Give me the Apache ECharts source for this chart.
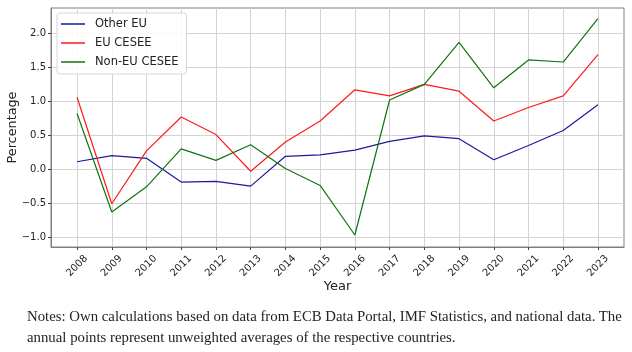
<!DOCTYPE html>
<html>
<head>
<meta charset="utf-8">
<script src="https://cdn.jsdelivr.net/npm/echarts@6/dist/echarts.min.js"></script>
<style>
html,body{margin:0;padding:0;background:#fff;}
#chart{position:absolute;left:0;top:0;width:632px;height:352px;}
#notes{position:absolute;left:27px;top:306px;width:605px;font-family:"Liberation Serif","DejaVu Serif",serif;font-size:14.8px;line-height:21px;color:#222;}
</style>
</head>
<body>
<div id="chart"></div>
<div id="notes">Notes: Own calculations based on data from ECB Data Portal, IMF Statistics, and national data. The annual points represent unweighted averages of the respective countries.</div>
<script>
const years = [2008,2009,2010,2011,2012,2013,2014,2015,2016,2017,2018,2019,2020,2021,2022,2023];
const otherEU = [0.11,0.20,0.16,-0.19,-0.18,-0.25,0.19,0.21,0.28,0.41,0.49,0.45,0.14,0.35,0.57,0.95];
const euCESEE = [1.06,-0.51,0.27,0.77,0.51,-0.03,0.40,0.71,1.17,1.08,1.25,1.15,0.71,0.91,1.08,1.69];
const nonEuCESEE = [0.82,-0.63,-0.26,0.30,0.13,0.36,0.01,-0.24,-0.97,1.02,1.25,1.87,1.20,1.61,1.58,2.22];
const yTicks = [-1.0,-0.5,0.0,0.5,1.0,1.5,2.0];
const seriesNames = ['Other EU','EU CESEE','Non-EU CESEE'];

const pair = arr => years.map((y,i)=>[y,arr[i]]);
const fmtY = v => v.toFixed(1).replace('-', '\u2212');
const font = '"DejaVu Sans", sans-serif';
const chart = echarts.init(document.getElementById('chart'), null, {renderer:'canvas'});
const mk = (name, data, color) => ({
  name, type:'line', data: pair(data), symbol:'none', showSymbol:false,
  lineStyle:{color, width:1.2}, itemStyle:{color}, emphasis:{disabled:true}, animation:false
});
chart.setOption({
  animation:false,
  grid:{left:51, right:8, top:8, bottom:105, show:true, borderColor:'#7f7f7f', borderWidth:1, backgroundColor:'#fff', outerBoundsMode:'none', containLabel:false},
  legend:{
    orient:'vertical', left:57, top:13, icon:'rect', itemWidth:24, itemHeight:1.5, itemGap:5,
    padding:[4,8,5,4], backgroundColor:'rgba(255,255,255,0.85)', borderColor:'#d6d6d6', borderWidth:1, borderRadius:3,
    textStyle:{fontFamily:font, fontSize:11.5, color:'#222', padding:[0,0,0,5], lineHeight:14},
    data: seriesNames
  },
  xAxis:{
    type:'value', min:2007.25, max:2023.75,
    name:'Year', nameLocation:'middle', nameGap:33, nameMoveOverlap:false, nameTextStyle:{fontFamily:font, fontSize:13, color:'#222'},
    axisLine:{show:true, onZero:false, lineStyle:{color:'#7f7f7f'}},
    axisTick:{show:true, length:3, lineStyle:{color:'#444'}, customValues: years},
    axisLabel:{customValues: years, rotate:45, fontFamily:font, fontSize:10, color:'#222', margin:19, align:'center', verticalAlign:'middle', formatter: v=>String(v)},
    splitLine:{show:true, lineStyle:{color:'#d3d3d3', width:1}}
  },
  yAxis:{
    type:'value', min:-1.147, max:2.376,
    name:'Percentage', nameLocation:'middle', nameGap:32, nameMoveOverlap:false, nameTextStyle:{fontFamily:font, fontSize:12.8, color:'#222'},
    axisLine:{show:true, onZero:false, lineStyle:{color:'#7f7f7f'}},
    axisTick:{show:true, length:3, lineStyle:{color:'#444'}, customValues: yTicks},
    axisLabel:{customValues: yTicks, fontFamily:font, fontSize:10, color:'#222', margin:5, formatter: fmtY},
    splitLine:{show:true, lineStyle:{color:'#d3d3d3', width:1}}
  },
  series:[
    mk(seriesNames[0], otherEU, '#1a1a9c'),
    mk(seriesNames[1], euCESEE, '#ff1a1a'),
    mk(seriesNames[2], nonEuCESEE, '#137313')
  ]
});
</script>
</body>
</html>
